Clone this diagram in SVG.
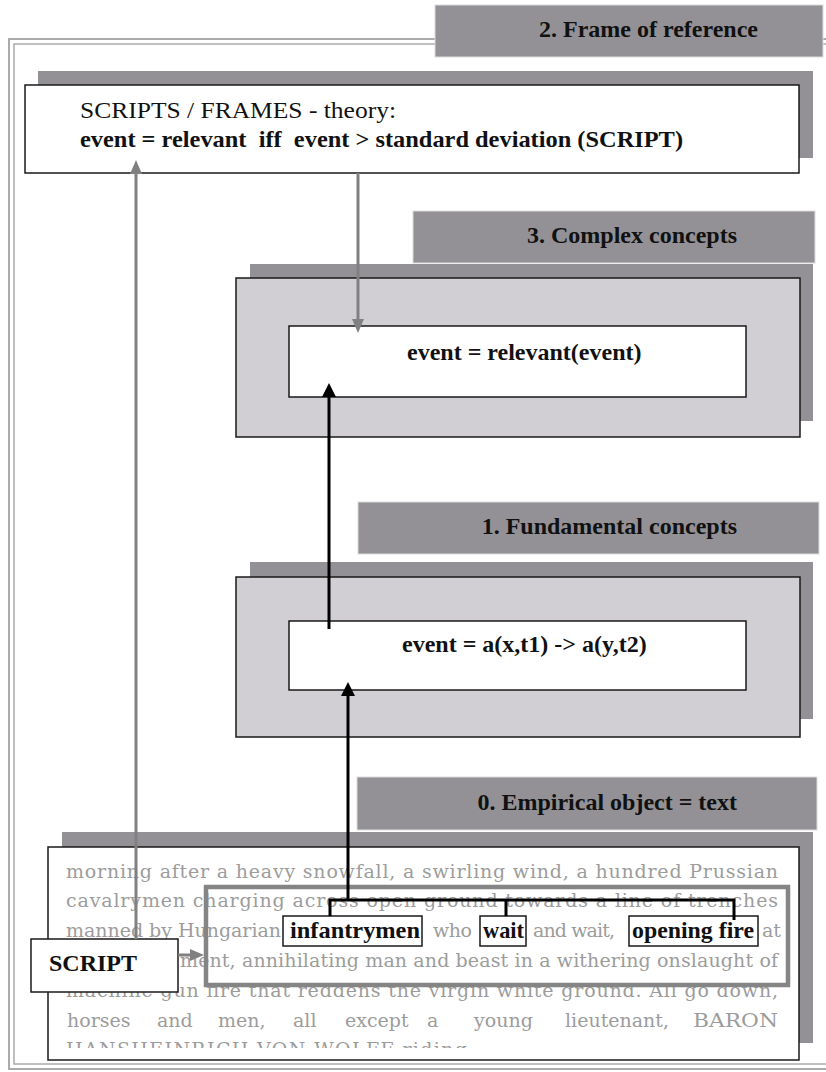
<svg xmlns="http://www.w3.org/2000/svg" width="826" height="1072" viewBox="0 0 826 1072">
  <style>
    .shadow{fill:#939196}
    .label{fill:#939196;stroke:#dcdcdc;stroke-width:1}
    .panel{fill:#d1cfd3;stroke:#1a1a1a;stroke-width:1.5}
    .box{fill:#fff;stroke:#1a1a1a;stroke-width:1.5}
    .t{font-family:"Liberation Serif","Times New Roman",serif;font-size:24px;fill:#111;white-space:pre}
    .b{font-weight:bold}
    .body{font-family:"DejaVu Serif","Liberation Serif",serif;font-size:19px;fill:#9c9c9c}
    .frame{fill:none;stroke:#ababab}
    .k{stroke:#000;stroke-width:3;fill:none}
    .g{stroke:#808080;stroke-width:3;fill:none}
  </style>
  <defs>
    <marker id="headK" viewBox="0 0 14 14" refX="1" refY="7" markerWidth="14" markerHeight="14" markerUnits="userSpaceOnUse" orient="auto">
      <path d="M0,0 L14,7 L0,14 z" fill="#000"/>
    </marker>
    <marker id="headG" viewBox="0 0 14 12" refX="1" refY="6" markerWidth="14" markerHeight="12" markerUnits="userSpaceOnUse" orient="auto">
      <path d="M0,0 L14,6 L0,12 z" fill="#808080"/>
    </marker>
    <clipPath id="clipLine5"><rect x="48" y="987" width="751" height="40"/></clipPath>
    <clipPath id="clipLine7"><rect x="48" y="1000" width="751" height="48"/></clipPath>
  </defs>

  <rect width="826" height="1072" fill="#fff"/>

  <!-- double outer frame -->
  <g id="frame">
    <rect class="frame" x="9" y="39" width="831" height="1030" stroke-width="2"/>
    <rect class="frame" x="14" y="44" width="821" height="1020" stroke-width="1.5"/>
  </g>

  <!-- level 2: frame of reference -->
  <g id="node-frame-label">
    <rect class="label" x="435" y="5" width="388" height="52"/>
    <text class="t b" x="758" y="37" text-anchor="end">2. Frame of reference</text>
  </g>
  <g id="node-scripts">
    <rect class="shadow" x="38" y="71" width="775" height="87"/>
    <rect class="box" x="25" y="85" width="774" height="88"/>
    <text class="t" x="80" y="118" textLength="316" lengthAdjust="spacingAndGlyphs">SCRIPTS / FRAMES - theory:</text>
    <text class="t b" x="80" y="147" textLength="603" lengthAdjust="spacingAndGlyphs" xml:space="preserve">event = relevant  iff  event &gt; standard deviation (SCRIPT)</text>
  </g>

  <!-- level 3: complex concepts -->
  <g id="node-complex-label">
    <rect class="label" x="413" y="211" width="402" height="52"/>
    <text class="t b" x="737" y="243" text-anchor="end">3. Complex concepts</text>
  </g>
  <g id="node-complex">
    <rect class="shadow" x="250" y="264" width="563" height="157"/>
    <rect class="panel" x="236" y="278" width="564" height="159"/>
  </g>
  <g id="node-relevant">
    <rect class="box" x="289" y="326" width="457" height="71"/>
    <text class="t b" x="407" y="360">event = relevant(event)</text>
  </g>

  <!-- level 1: fundamental concepts -->
  <g id="node-fundamental-label">
    <rect class="label" x="358" y="502" width="461" height="52"/>
    <text class="t b" x="737" y="534" text-anchor="end">1. Fundamental concepts</text>
  </g>
  <g id="node-fundamental">
    <rect class="shadow" x="250" y="562" width="563" height="157"/>
    <rect class="panel" x="236" y="577" width="564" height="160"/>
  </g>
  <g id="node-event">
    <rect class="box" x="289" y="621" width="457" height="69"/>
    <text class="t b" x="402" y="652">event = a(x,t1) -&gt; a(y,t2)</text>
  </g>

  <!-- level 0: empirical object -->
  <g id="node-empirical-label">
    <rect class="label" x="357" y="777" width="460" height="53"/>
    <text class="t b" x="737" y="810" text-anchor="end">0. Empirical object = text</text>
  </g>
  <g id="node-text">
    <rect class="shadow" x="62" y="832" width="751" height="211"/>
    <rect class="box" x="48" y="847" width="751" height="213"/>
    <text class="body" x="66" y="878" textLength="712" lengthAdjust="spacing">morning after a heavy snowfall, a swirling wind, a hundred Prussian</text>
    <text class="body" x="66" y="907" textLength="712" lengthAdjust="spacing">cavalrymen charging across open ground towards a line of trenches</text>
    <text class="body" x="66" y="937" textLength="215" lengthAdjust="spacing">manned by Hungarian</text>
    <text class="body" x="433" y="937" textLength="39" lengthAdjust="spacing">who</text>
    <text class="body" x="533" y="937" textLength="82" lengthAdjust="spacing">and wait,</text>
    <text class="body" x="762" y="937">at</text>
    <text class="body" x="180" y="967" textLength="598" lengthAdjust="spacing">ment, annihilating man and beast in a withering onslaught of</text>
    <text class="body" x="66" y="997" textLength="712" lengthAdjust="spacing" clip-path="url(#clipLine5)">machine gun fire that reddens the virgin white ground. All go down,</text>
    <!-- justified line: words placed one by one -->
    <text class="body" y="1027">
      <tspan x="67">horses</tspan><tspan x="157">and</tspan><tspan x="218">men,</tspan><tspan x="293">all</tspan><tspan x="345">except</tspan><tspan x="427">a</tspan><tspan x="474">young</tspan><tspan x="565">lieutenant,</tspan>
    </text>
    <text class="body" x="693" y="1027" textLength="85" lengthAdjust="spacingAndGlyphs">BARON</text>
    <text class="body" x="66" y="1056" textLength="401" lengthAdjust="spacing" clip-path="url(#clipLine7)">HANSHEINRICH VON WOLFF riding</text>

    <!-- highlighted words -->
    <rect class="box" x="283" y="916" width="139" height="30"/>
    <text class="t b" x="290" y="938" font-size="23" textLength="130" lengthAdjust="spacingAndGlyphs">infantrymen</text>
    <rect class="box" x="480" y="916" width="46" height="30"/>
    <text class="t b" x="483" y="938" font-size="23" textLength="41" lengthAdjust="spacingAndGlyphs">wait</text>
    <rect class="box" x="629" y="916" width="129" height="30"/>
    <text class="t b" x="632" y="938" font-size="23" textLength="122" lengthAdjust="spacingAndGlyphs">opening fire</text>

    <!-- script frame over the text passage -->
    <rect x="206" y="887" width="582" height="98" fill="none" stroke="#858585" stroke-width="4.5"/>
  </g>

  <g id="node-script">
    <rect class="box" x="31" y="939" width="147" height="53"/>
    <text class="t b" x="49" y="971">SCRIPT</text>
  </g>

  <!-- connectors -->
  <g id="connectors">
    <line class="g" x1="136" y1="939" x2="136" y2="173" marker-end="url(#headG)"/>
    <line class="g" x1="358" y1="173" x2="358" y2="320" marker-end="url(#headG)"/>
    <line class="g" x1="178" y1="955" x2="191" y2="955" marker-end="url(#headG)"/>
    <line class="k" x1="329" y1="629" x2="329" y2="396" marker-end="url(#headK)"/>
    <line class="k" x1="348" y1="901" x2="348" y2="695" marker-end="url(#headK)"/>
    <path class="k" d="M330,916 V900 H734 V920 M506,900 V916"/>
  </g>
</svg>
